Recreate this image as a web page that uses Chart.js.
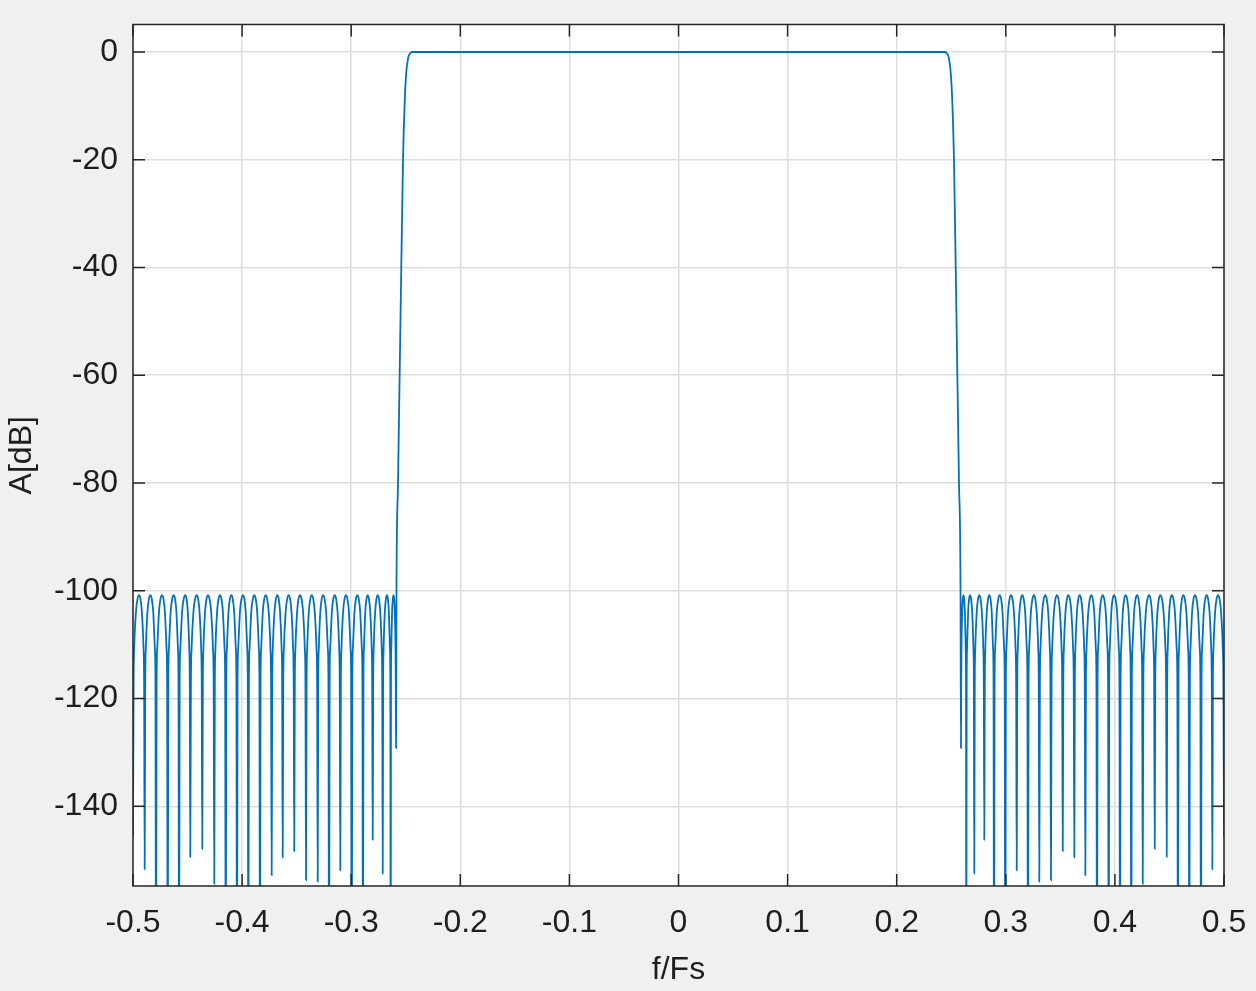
<!DOCTYPE html>
<html lang="en">
<head>
    <meta charset="UTF-8">
    <title>A[dB] vs f/Fs</title>
    <script src="https://cdn.jsdelivr.net/npm/chart.js"></script>
    <style>
        html, body { margin: 0; padding: 0; background: #f0f0f0; }
        #wrap { width: 1256px; height: 991px; }
    </style>
</head>
<body>
    <div id="wrap"><canvas id="respChart" width="1256" height="991"></canvas></div>

    <script>
        // axis ticks
        const xTicks = [-0.5, -0.4, -0.3, -0.2, -0.1, 0, 0.1, 0.2, 0.3, 0.4, 0.5];
        const xTickLabels = ['-0.5', '-0.4', '-0.3', '-0.2', '-0.1', '0', '0.1', '0.2', '0.3', '0.4', '0.5'];
        const yTicks = [-140, -120, -100, -80, -60, -40, -20, 0];
        const yTickLabels = ['-140', '-120', '-100', '-80', '-60', '-40', '-20', '0'];

        // left stopband: nulls (first is the -0.5 edge) and ripple peaks
        const leftNullF = [-0.5, -0.4893, -0.4789, -0.4682, -0.4578, -0.4475, -0.4365, -0.4255, -0.4150, -0.4047,
            -0.3943, -0.3836, -0.3729, -0.3628, -0.3522, -0.3414, -0.3307, -0.3203, -0.3100, -0.2995,
            -0.2892, -0.2803, -0.2711, -0.2638, -0.2589];
        const leftNullDb = [-145.7, -151.7, -180, -180, -180, -149.4, -147.9, -154.4, -180, -180,
            -180, -180, -152.8, -149.5, -148.3, -153.7, -154.0, -180, -151.9, -180,
            -180, -146.2, -152.5, -180, -129.2];
        const leftPeakF = [-0.4945, -0.4841, -0.4734, -0.4627, -0.4521, -0.4416, -0.4313, -0.4203, -0.4099, -0.3992,
            -0.3888, -0.3784, -0.3677, -0.3573, -0.3469, -0.3362, -0.3258, -0.3151, -0.3048, -0.2944,
            -0.2849, -0.2757, -0.2672, -0.2612];
        const leftPeakDb = [-100.8, -100.8, -100.8, -100.8, -100.8, -100.8, -100.8, -100.8, -100.8, -100.8,
            -100.8, -100.8, -100.8, -100.8, -100.8, -100.8, -100.8, -100.8, -100.8, -100.8,
            -100.8, -100.8, -100.8, -100.8];

        // transition bands and passband edges
        const leftEdgeF = [-0.2585, -0.2571, -0.2556, -0.2541, -0.2525, -0.2511, -0.2496, -0.2477, -0.2458, -0.2438];
        const leftEdgeDb = [-100, -80, -60, -40, -20, -10, -4, -1, -0.2, 0];
        const rightEdgeF = [0.2438, 0.2458, 0.2477, 0.2496, 0.2511, 0.2525, 0.2541, 0.2556, 0.2571, 0.2585];
        const rightEdgeDb = [0, -0.2, -1, -4, -10, -20, -40, -60, -80, -100];

        // right stopband (last null is the 0.5 edge)
        const rightNullF = [0.2589, 0.2638, 0.2711, 0.2803, 0.2892, 0.2995, 0.3100, 0.3203, 0.3307, 0.3414,
            0.3522, 0.3628, 0.3729, 0.3836, 0.3943, 0.4047, 0.4150, 0.4255, 0.4365, 0.4475,
            0.4578, 0.4682, 0.4789, 0.4893, 0.5];
        const rightNullDb = [-129.2, -180, -152.5, -146.2, -180, -180, -151.9, -180, -154.0, -153.7,
            -148.3, -149.5, -152.8, -180, -180, -180, -180, -154.4, -147.9, -149.4,
            -180, -180, -180, -151.7, -145.7];
        const rightPeakF = [0.2612, 0.2672, 0.2757, 0.2849, 0.2944, 0.3048, 0.3151, 0.3258, 0.3362, 0.3469,
            0.3573, 0.3677, 0.3784, 0.3888, 0.3992, 0.4099, 0.4203, 0.4313, 0.4416, 0.4521,
            0.4627, 0.4734, 0.4841, 0.4945];
        const rightPeakDb = [-100.8, -100.8, -100.8, -100.8, -100.8, -100.8, -100.8, -100.8, -100.8, -100.8,
            -100.8, -100.8, -100.8, -100.8, -100.8, -100.8, -100.8, -100.8, -100.8, -100.8,
            -100.8, -100.8, -100.8, -100.8];

        // ripple cap shape (fraction of the way from null to peak, dB below peak)
        const capPos = [0.1, 0.2, 0.5, 0.75];
        const capDrop = [-16, -10, -3, -0.7];

        function buildStopband(nullF, nullDb, peakF, peakDb) {
            const pts = [{x: nullF[0], y: nullDb[0]}];
            for (let i = 0; i < peakF.length; i++) {
                const a = {x: nullF[i], y: nullDb[i]};
                const b = {x: nullF[i + 1], y: nullDb[i + 1]};
                const p = {x: peakF[i], y: peakDb[i]};
                capPos.forEach((c, k) => {
                    if (p.y + capDrop[k] > a.y) pts.push({x: a.x + c * (p.x - a.x), y: p.y + capDrop[k]});
                });
                pts.push(p);
                for (let k = capPos.length - 1; k >= 0; k--) {
                    if (p.y + capDrop[k] > b.y) pts.push({x: b.x + capPos[k] * (p.x - b.x), y: p.y + capDrop[k]});
                }
                pts.push(b);
            }
            return pts;
        }

        const points = [
            ...buildStopband(leftNullF, leftNullDb, leftPeakF, leftPeakDb),
            ...leftEdgeF.map((f, i) => ({x: f, y: leftEdgeDb[i]})),
            ...rightEdgeF.map((f, i) => ({x: f, y: rightEdgeDb[i]})),
            ...buildStopband(rightNullF, rightNullDb, rightPeakF, rightPeakDb)
        ];

        const axisColor = '#262626';

        // white plot box, full frame and inward tick marks like the original figure
        const framePlugin = {
            id: 'frame',
            beforeDraw(chart) {
                const {ctx, chartArea: a} = chart;
                ctx.save();
                ctx.fillStyle = '#f0f0f0';
                ctx.fillRect(0, 0, chart.width, chart.height);
                ctx.fillStyle = '#ffffff';
                ctx.fillRect(a.left, a.top, a.right - a.left, a.bottom - a.top);
                ctx.restore();
            },
            afterDatasetsDraw(chart) {
                const {ctx, chartArea: a, scales} = chart;
                const len = 12;
                ctx.save();
                ctx.strokeStyle = axisColor;
                ctx.lineWidth = 1.5;
                ctx.beginPath();
                xTicks.forEach(v => {
                    const px = scales.x.getPixelForValue(v);
                    ctx.moveTo(px, a.bottom); ctx.lineTo(px, a.bottom - len);
                    ctx.moveTo(px, a.top); ctx.lineTo(px, a.top + len);
                });
                yTicks.forEach(v => {
                    const py = scales.y.getPixelForValue(v);
                    ctx.moveTo(a.left, py); ctx.lineTo(a.left + len, py);
                    ctx.moveTo(a.right, py); ctx.lineTo(a.right - len, py);
                });
                ctx.stroke();
                ctx.strokeRect(a.left, a.top, a.right - a.left, a.bottom - a.top);
                ctx.restore();
            }
        };

        // no extra room for overhanging labels: the plot box is placed by padding and fixed sizes
        function noOverhang(s) {
            s.paddingLeft = 0;
            s.paddingRight = 0;
            s.paddingTop = 0;
            s.paddingBottom = 0;
        }

        Chart.defaults.font.family = '"Liberation Sans", Arial, sans-serif';
        Chart.defaults.font.size = 32;
        Chart.defaults.color = '#1e1e1e';

        new Chart(document.getElementById('respChart'), {
            type: 'line',
            data: {
                datasets: [{
                    data: points,
                    borderColor: '#0072BD',
                    borderWidth: 1.8,
                    pointRadius: 0,
                    fill: false,
                    cubicInterpolationMode: 'monotone'
                }]
            },
            options: {
                responsive: false,
                animation: false,
                layout: { padding: { top: 24.5, right: 32, left: 0, bottom: 0 } },
                plugins: { legend: { display: false }, tooltip: { enabled: false } },
                scales: {
                    x: {
                        type: 'linear',
                        min: -0.5,
                        max: 0.5,
                        afterBuildTicks: s => { s.ticks = xTicks.map(v => ({value: v})); },
                        afterFit: s => { s.height = 105; noOverhang(s); },
                        ticks: {
                            padding: 18,
                            maxRotation: 0,
                            callback: (v, i) => xTickLabels[i]
                        },
                        grid: { color: '#dedede', lineWidth: 1.5, drawTicks: false },
                        border: { display: false },
                        title: { display: true, text: 'f/Fs', padding: { bottom: 2 } }
                    },
                    y: {
                        type: 'linear',
                        min: -154.8,
                        max: 5.1,
                        afterBuildTicks: s => { s.ticks = yTicks.map(v => ({value: v})); },
                        afterFit: s => { s.width = 133; noOverhang(s); },
                        ticks: {
                            padding: 15,
                            callback: (v, i) => yTickLabels[i]
                        },
                        grid: { color: '#dedede', lineWidth: 1.5, drawTicks: false },
                        border: { display: false },
                        title: { display: true, text: 'A[dB]', padding: { top: 3 } }
                    }
                }
            },
            plugins: [framePlugin]
        });
    </script>
</body>
</html>
